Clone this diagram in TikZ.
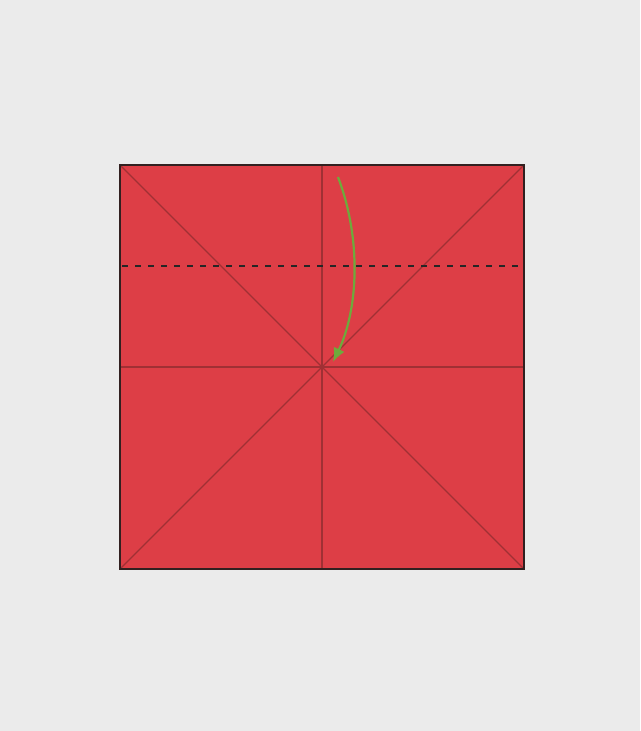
\documentclass[tikz,border=0pt]{standalone}
\usepackage{tikz}
\usetikzlibrary{arrows.meta}

\definecolor{paperbg}{RGB}{235,235,235}
\definecolor{sheetred}{RGB}{221,62,70}
\definecolor{creasered}{RGB}{160,48,52}
\definecolor{edgedark}{RGB}{50,32,32}
\definecolor{arrowgreen}{RGB}{110,170,60}

\tikzset{
    crease/.style={draw=creasered, line width=1.3pt},
    foldline/.style={draw=black!85, line width=2.6pt, dash pattern=on 6pt off 7pt},
    foldarrow/.style={draw=arrowgreen, line width=2.2pt, -{Latex[length=14pt,width=12pt]}}
}

\begin{document}
\begin{tikzpicture}[x=1pt, y=-1pt]
    % Background and page size
    \fill[paperbg] (0,0) rectangle (640,731);
    \useasboundingbox (0,0) rectangle (640,731);

    % Corners of the square sheet
    \coordinate (tl) at (120,165);
    \coordinate (tr) at (524,165);
    \coordinate (br) at (524,569);
    \coordinate (bl) at (120,569);
    \coordinate (c) at (322,367);
    \coordinate (tm) at (322,165);
    \coordinate (bm) at (322,569);
    \coordinate (lm) at (120,367);
    \coordinate (rm) at (524,367);

    % The sheet
    \fill[sheetred] (tl) rectangle (br);

    % Crease lines
    \draw[crease] (tl) -- (br);
    \draw[crease] (tr) -- (bl);
    \draw[crease] (tm) -- (bm);
    \draw[crease] (lm) -- (rm);

    % Border
    \draw[edgedark, line width=2.8pt] (tl) rectangle (br);

    % Valley fold line
    \coordinate (fl) at (122,266);
    \coordinate (fr) at (522,266);
    \draw[foldline] (fl) -- (fr);

    % Fold arrow
    \coordinate (astart) at (338,177);
    \coordinate (aend) at (333,362);
    \draw[foldarrow] (astart) .. controls (362,240) and (358,310) .. (aend);
\end{tikzpicture}
\end{document}
